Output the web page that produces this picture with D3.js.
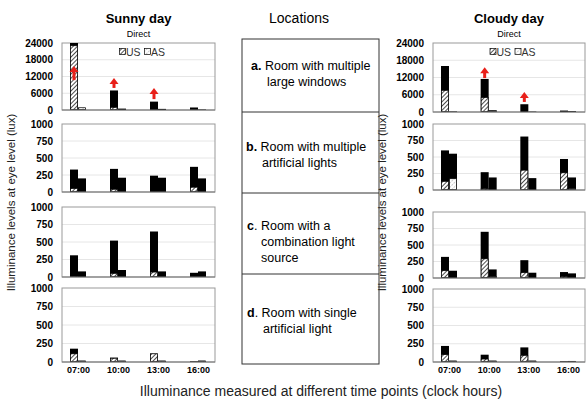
<!DOCTYPE html>
<html>
<head>
<meta charset="utf-8">
<script src="https://cdn.jsdelivr.net/npm/d3@7"></script>
<style>
  body { margin: 0; background: #fff; }
  text { font-family: "Liberation Sans", Arial, sans-serif; }
</style>
</head>
<body>
<div id="chart"></div>
<script>
// categories
const times = ["07:00", "10:00", "13:00", "16:00"];
const locations = [
  ["a.", " Room with multiple", "large windows"],
  ["b.", " Room with multiple", "artificial lights"],
  ["c", ". Room with a", "combination light", "source"],
  ["d", ". Room with single", "artificial  light"]
];
const directTicks = [0, 6000, 12000, 18000, 24000];
const luxTicks = [0, 250, 500, 750, 1000];

// sunny day : totals and hatched (lower) part, one row per location
const sunnyUS = [[24600, 7000, 3000, 900], [330, 340, 240, 370], [310, 520, 650, 60], [180, 60, 115, 10]];
const sunnyUSpart = [[23000, 900, 0, 0], [50, 40, 0, 70], [10, 50, 70, 0], [110, 50, 110, 0]];
const sunnyAS = [[800, 500, 400, 200], [200, 210, 210, 200], [80, 100, 80, 80], [15, 15, 15, 15]];
const sunnyASpart = [[800, 0, 0, 0], [10, 0, 0, 0], [0, 0, 0, 0], [15, 15, 15, 15]];

// cloudy day
const cloudyUS = [[16000, 11500, 2700, 500], [600, 270, 810, 470], [320, 700, 270, 90], [220, 100, 200, 10]];
const cloudyUSpart = [[7500, 5000, 0, 0], [130, 20, 300, 260], [110, 290, 80, 20], [100, 40, 90, 0]];
const cloudyAS = [[200, 600, 150, 300], [550, 190, 180, 190], [110, 130, 80, 70], [15, 15, 15, 10]];
const cloudyASpart = [[0, 400, 0, 0], [170, 0, 0, 20], [0, 20, 0, 0], [15, 15, 15, 10]];

// red arrows (value from -> to) on the direct panels
const sunnyArrows = [["07:00", 10700, 15800], ["10:00", 7900, 11500], ["13:00", 3900, 7900]];
const cloudyArrows = [["10:00", 11800, 15600], ["13:00", 3500, 7000]];

const W = 587, H = 400;
const svg = d3.select("#chart").append("svg").attr("width", W).attr("height", H);

// hatch patterns
const defs = svg.append("defs");
const pUS = defs.append("pattern").attr("id", "hUS").attr("patternUnits", "userSpaceOnUse")
  .attr("width", 3).attr("height", 3).attr("patternTransform", "rotate(45)");
pUS.append("rect").attr("width", 3).attr("height", 3).attr("fill", "#fff");
pUS.append("line").attr("x1", 0).attr("y1", 0).attr("x2", 0).attr("y2", 3)
  .attr("stroke", "#222").attr("stroke-width", 1.6);
const pAS = defs.append("pattern").attr("id", "hAS").attr("patternUnits", "userSpaceOnUse")
  .attr("width", 3).attr("height", 3).attr("patternTransform", "rotate(45)");
pAS.append("rect").attr("width", 3).attr("height", 3).attr("fill", "#fff");
pAS.append("line").attr("x1", 0).attr("y1", 0).attr("x2", 0).attr("y2", 3)
  .attr("stroke", "#999").attr("stroke-width", 1).attr("stroke-dasharray", "1,1");

const leftPanels = [[43, 110], [124, 192], [207, 277], [288, 362]];
const rightPanels = [[43, 112], [124, 190], [212, 278], [289, 362]];

function drawSide(x0, x1, panels, US, USp, AS, ASp, arrows, title) {
  const x = d3.scalePoint().domain(times).range([x0 + 16, x1 - 17]);
  const bw = 8;

  svg.append("text").attr("x", (x0 + x1) / 2).attr("y", 23)
    .attr("text-anchor", "middle").attr("font-size", 13).attr("font-weight", 700).text(title);

  panels.forEach((p, i) => {
    const top = i === 0;
    const y = d3.scaleLinear().domain([0, top ? 24000 : 1000]).range([p[1], p[0]]).clamp(true);
    const g = svg.append("g");

    // grid
    g.selectAll(".grid").data((top ? directTicks : luxTicks).slice(1, -1)).enter()
      .append("line").attr("x1", x0).attr("x2", x1)
      .attr("y1", d => y(d)).attr("y2", d => y(d))
      .attr("stroke", "#e6e6e6").attr("stroke-width", 1);

    // frame
    g.append("rect").attr("x", x0).attr("y", p[0]).attr("width", x1 - x0).attr("height", p[1] - p[0])
      .attr("fill", "none").attr("stroke", "#999").attr("stroke-width", 1);

    const yAxis = d3.axisLeft(y).tickValues(top ? directTicks : luxTicks)
      .tickFormat(d3.format("d")).tickSize(0).tickPadding(9);
    g.append("g").attr("transform", "translate(" + x0 + ",0)").call(yAxis)
      .call(a => a.select(".domain").remove())
      .selectAll("text").attr("font-size", 10).attr("font-weight", 700).attr("fill", "#000")
      .attr("font-family", "Liberation Sans, Arial, sans-serif");

    // bars: US on the left of the tick, AS on the right
    const rows = times.map((t, j) => ({ t: t, us: US[i][j], usp: USp[i][j], as: AS[i][j], asp: ASp[i][j] }));
    rows.forEach(d => {
      const xs = x(d.t);
      [[xs - bw, d.us, d.usp, "url(#hUS)"], [xs, d.as, d.asp, "url(#hAS)"]].forEach(b => {
        g.append("rect").attr("x", b[0]).attr("y", y(b[1])).attr("width", bw)
          .attr("height", y(0) - y(b[1])).attr("fill", "#000");
        if (b[2] > 0) {
          g.append("rect").attr("x", b[0] + 0.5).attr("y", y(b[2])).attr("width", bw - 1)
            .attr("height", Math.max(0, y(0) - y(b[2]) - 0.5)).attr("fill", b[3])
            .attr("stroke", "#000").attr("stroke-width", 0.6);
        }
      });
    });

    // baseline
    g.append("line").attr("x1", x0).attr("x2", x1).attr("y1", p[1]).attr("y2", p[1])
      .attr("stroke", "#777").attr("stroke-width", 1);

    if (top) {
      g.append("text").attr("x", (x0 + x1) / 2).attr("y", 37).attr("text-anchor", "middle")
        .attr("font-size", 9).text("Direct");
      // legend
      const lx = (x0 + x1) / 2 - 19;
      [["url(#hUS)", "US", 0], ["url(#hAS)", "AS", 25]].forEach(l => {
        g.append("rect").attr("x", lx + l[2]).attr("y", 48.5).attr("width", 6).attr("height", 6)
          .attr("fill", l[0]).attr("stroke", "#000").attr("stroke-width", 0.7);
        g.append("text").attr("x", lx + l[2] + 6.5).attr("y", 56).attr("font-size", 10.5)
          .attr("fill", "#333").text(l[1]);
      });
      // red arrows
      arrows.forEach(a => {
        const ax = x(a[0]) - bw / 2;
        const yb = y(a[1]), yt = y(a[2]);
        g.append("line").attr("x1", ax).attr("x2", ax).attr("y1", yb).attr("y2", yt + 5)
          .attr("stroke", "#e8201a").attr("stroke-width", 3);
        g.append("path").attr("d", "M" + (ax - 4.5) + "," + (yt + 6) + "L" + ax + "," + yt + "L" + (ax + 4.5) + "," + (yt + 6) + "Z")
          .attr("fill", "#e8201a");
      });
    }

    if (i === panels.length - 1) {
      g.append("g").attr("transform", "translate(0," + p[1] + ")")
        .call(d3.axisBottom(x).tickSize(0).tickPadding(5))
        .call(a => a.select(".domain").remove())
        .selectAll("text").attr("font-size", 9).attr("font-weight", 700).attr("fill", "#000")
        .attr("font-family", "Liberation Sans, Arial, sans-serif");
    }
  });

  svg.append("text")
    .attr("transform", "translate(" + (x0 - 47) + "," + ((panels[0][0] + panels[3][1]) / 2) + ") rotate(-90)")
    .attr("text-anchor", "middle").attr("font-size", 11.5).attr("fill", "#222")
    .text("Illuminance levels at eye level (lux)");
}

drawSide(62, 215, leftPanels, sunnyUS, sunnyUSpart, sunnyAS, sunnyASpart, sunnyArrows, "Sunny day");
drawSide(433, 585, rightPanels, cloudyUS, cloudyUSpart, cloudyAS, cloudyASpart, cloudyArrows, "Cloudy day");

// middle locations column
svg.append("text").attr("x", 299).attr("y", 23).attr("text-anchor", "middle")
  .attr("font-size", 14).text("Locations");
const boxY = [39, 112, 193, 274, 364];
const bx0 = 242, bx1 = 379;
svg.append("rect").attr("x", bx0).attr("y", boxY[0]).attr("width", bx1 - bx0)
  .attr("height", boxY[4] - boxY[0]).attr("fill", "none").attr("stroke", "#333").attr("stroke-width", 1);
boxY.slice(1, 4).forEach(yy => {
  svg.append("line").attr("x1", bx0).attr("x2", bx1).attr("y1", yy).attr("y2", yy)
    .attr("stroke", "#333").attr("stroke-width", 1);
});
const lineStart = [[251, 267], [246, 262], [247, 261, 261], [247, 263]];
const firstLineY = [70, 151, 230, 317];
locations.forEach((loc, i) => {
  const t = svg.append("text").attr("x", lineStart[i][0]).attr("y", firstLineY[i]).attr("font-size", 12.5);
  t.append("tspan").attr("font-weight", 700).text(loc[0]);
  t.append("tspan").text(loc[1]);
  loc.slice(2).forEach((s, k) => {
    svg.append("text").attr("x", lineStart[i][k + 1]).attr("y", firstLineY[i] + 16 * (k + 1))
      .attr("font-size", 12.5).text(s);
  });
});

svg.append("text").attr("x", 321).attr("y", 396).attr("text-anchor", "middle")
  .attr("font-size", 14).attr("fill", "#222")
  .text("Illuminance measured at different time points (clock hours)");
</script>
</body>
</html>
